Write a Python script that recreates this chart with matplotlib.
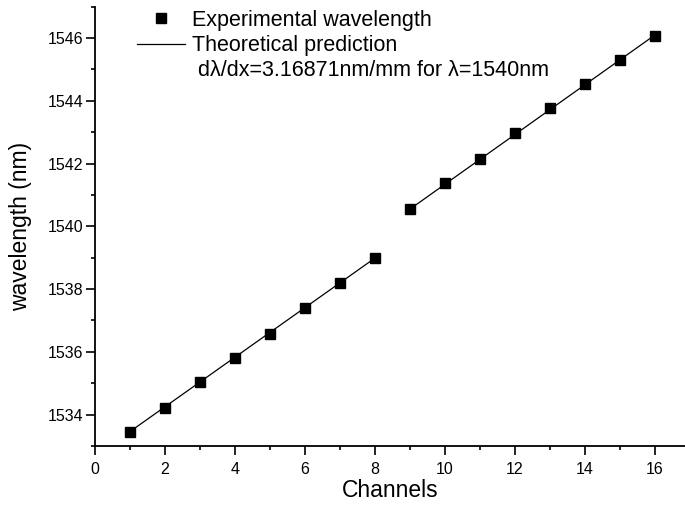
import matplotlib
matplotlib.use("Agg")
import matplotlib.pyplot as plt
from matplotlib.lines import Line2D
from matplotlib.ticker import MultipleLocator

plt.rcParams['font.family'] = ['Liberation Sans', 'DejaVu Sans']

# channels and measured wavelengths (nm)
channels = [1, 2, 3, 4, 5, 6, 7, 8, 9, 10, 11, 12, 13, 14, 15, 16]
wl_exp = [1533.46, 1534.20, 1535.03, 1535.82, 1536.57, 1537.40, 1538.21, 1538.99,
          1540.55, 1541.38, 1542.15, 1542.96, 1543.76, 1544.55, 1545.30, 1546.08]

# theoretical prediction, two groups of channels
theo_ch_a = [1, 8]
theo_wl_a = [1533.46, 1538.99]
theo_ch_b = [9, 16]
theo_wl_b = [1540.55, 1546.10]

fig = plt.figure(figsize=(6.85, 5.15), dpi=100)
ax = fig.add_axes([95/685, 69/515, 590/685, 439.3/515])

ax.plot(theo_ch_a, theo_wl_a, color='black', lw=0.9)
ax.plot(theo_ch_b, theo_wl_b, color='black', lw=0.9)
ax.plot(channels, wl_exp, 's', color='black', ms=7, linestyle='none')

ax.set_xlim(0, 590/35)
ax.set_ylim(1533, 1547)
ax.xaxis.set_major_locator(MultipleLocator(2))
ax.xaxis.set_minor_locator(MultipleLocator(1))
ax.yaxis.set_major_locator(MultipleLocator(2))
ax.yaxis.set_minor_locator(MultipleLocator(1))
ax.tick_params(which='major', direction='out', length=6.5, width=1.2, labelsize=11.5)
ax.tick_params(which='minor', direction='out', length=3, width=1.2)
ax.tick_params(axis='x', which='major', pad=5)
ax.tick_params(axis='y', which='major', pad=2)
for s in ['top', 'right']:
    ax.spines[s].set_visible(False)
for s in ['left', 'bottom']:
    ax.spines[s].set_linewidth(1.3)

ax.set_xlabel('Channels', fontsize=16.5)
ax.set_ylabel('wavelength (nm)', fontsize=16.5)
ax.xaxis.set_label_coords(0.5, -(479 - 446) / 439.3)
ax.yaxis.set_label_coords(-(95 - 32) / 590, 0.5)

handles = [Line2D([], [], marker='s', color='black', ms=7, linestyle='none'),
           Line2D([], [], color='black', lw=0.9),
           Line2D([], [], color='none')]
labels = ['Experimental wavelength', 'Theoretical prediction',
          ' d\u03bb/dx=3.16871nm/mm for \u03bb=1540nm']
fig.legend(handles, labels, loc='upper left', bbox_to_anchor=(137/685, 1 - 10/515),
           frameon=False, fontsize=15.5, handlelength=2.23, handletextpad=0.33,
           labelspacing=0.19, borderpad=0, borderaxespad=0)

fig.savefig('out.png', dpi=100)
